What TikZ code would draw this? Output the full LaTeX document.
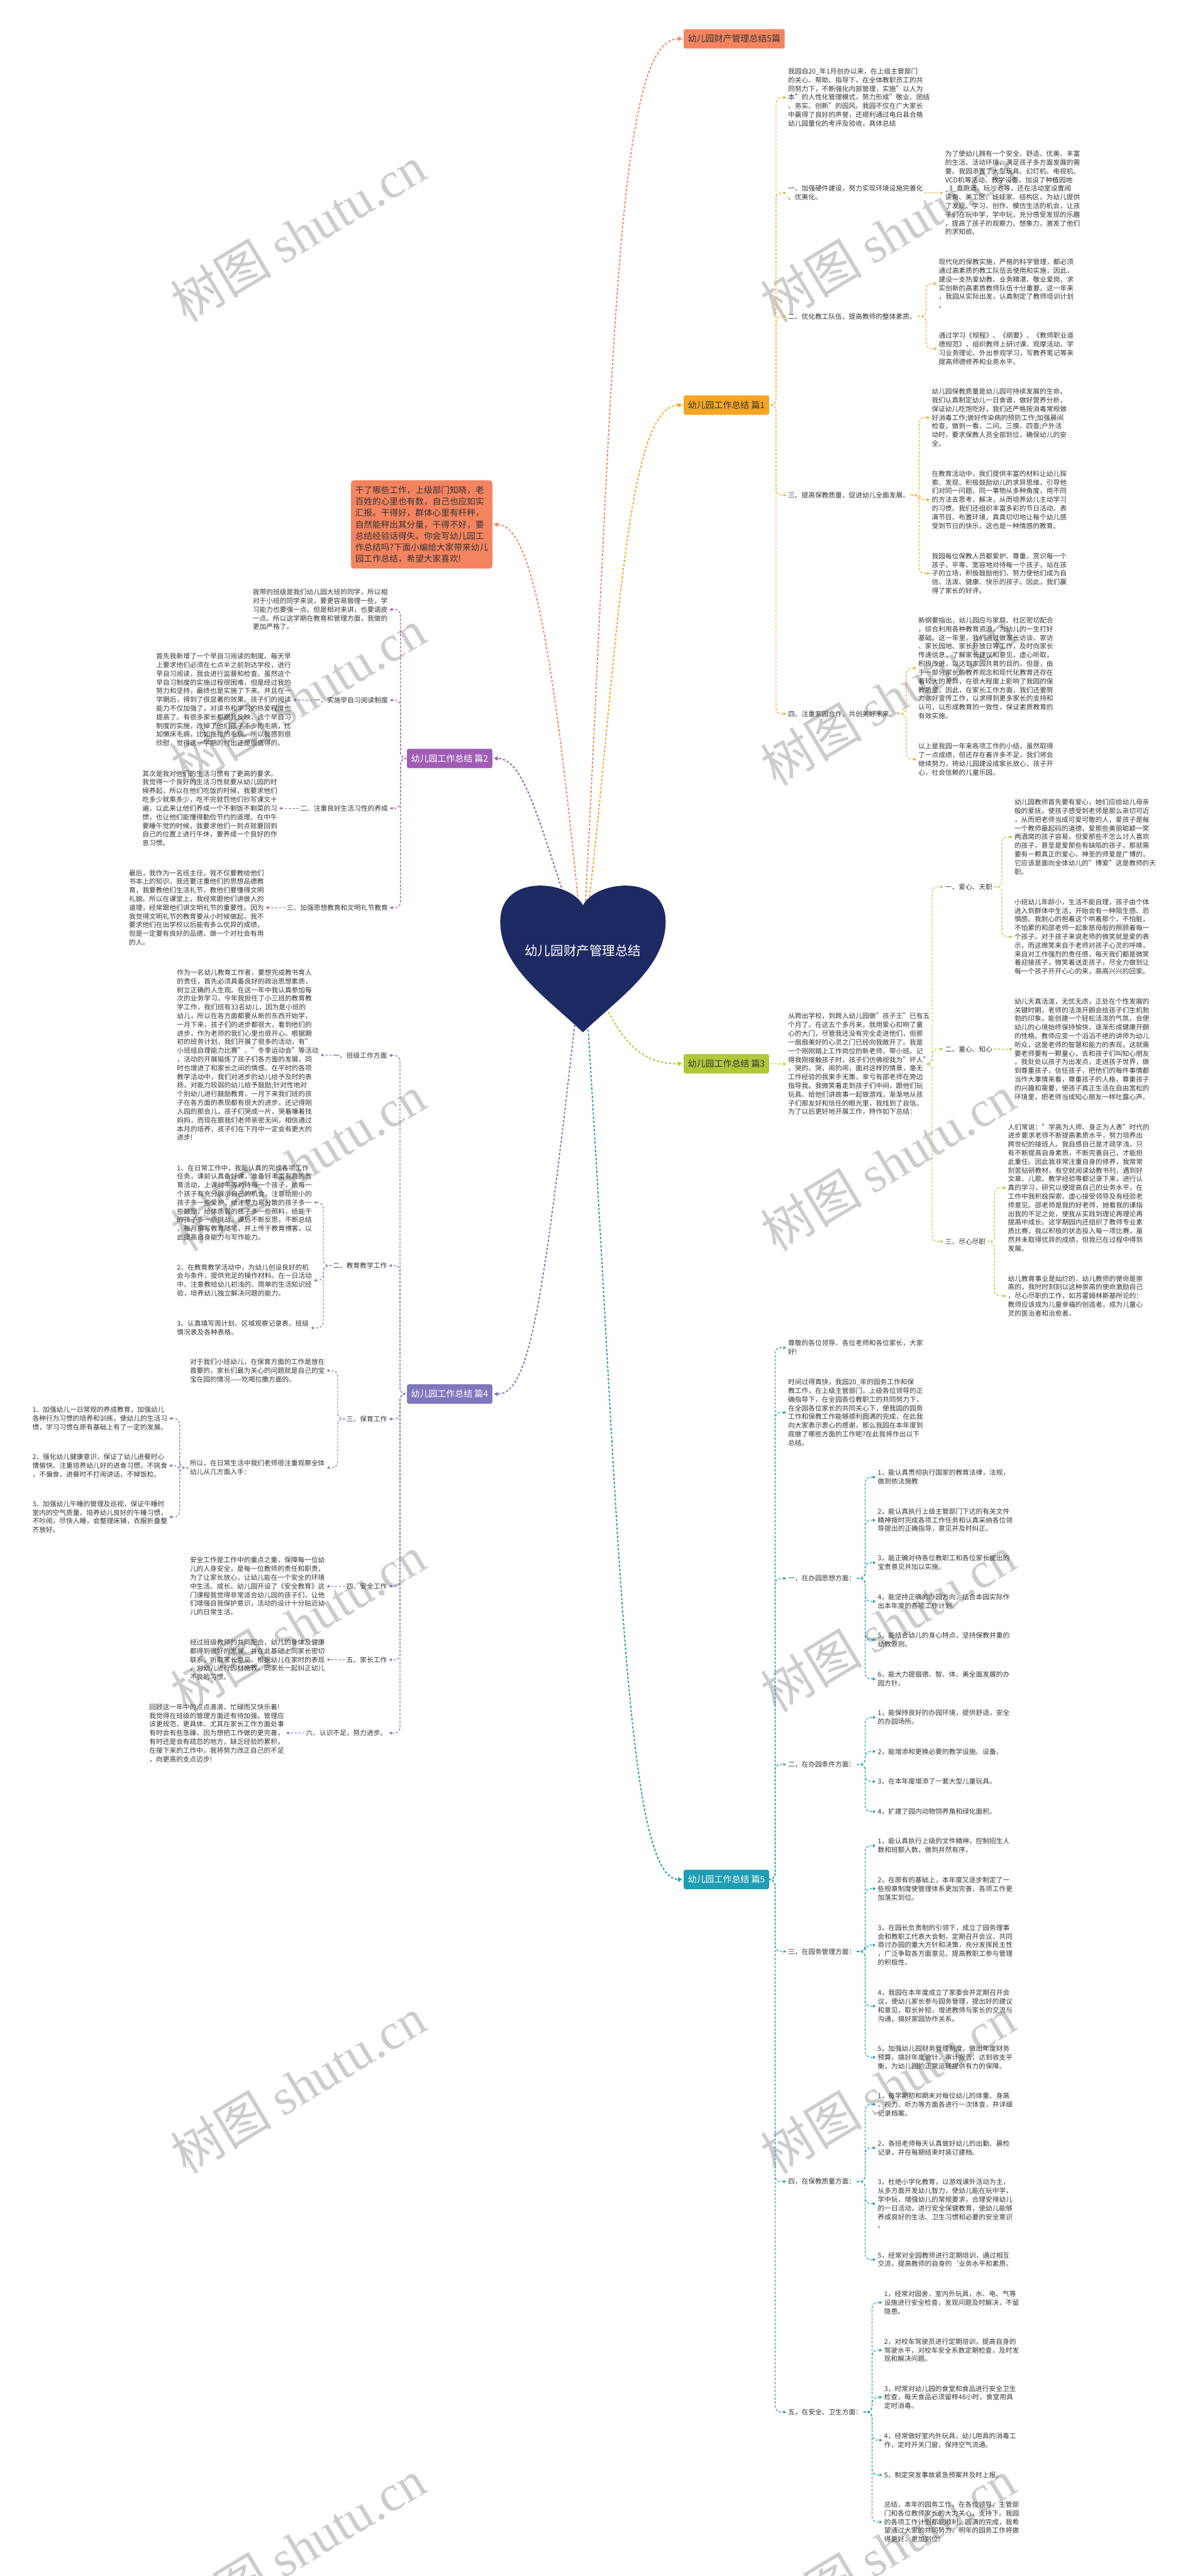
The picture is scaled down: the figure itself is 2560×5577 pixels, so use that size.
\documentclass[tikz,border=0pt]{standalone}
\usepackage{fontspec}
\setmainfont{Noto Sans CJK SC}
\newfontfamily\wmlat{Liberation Serif}
\usetikzlibrary{arrows.meta,calc}
\pgfdeclarelayer{wmk}
\pgfdeclarelayer{back}
\pgfsetlayers{wmk,back,main}
\definecolor{txtc}{HTML}{333333}
\definecolor{cT}{HTML}{F4845F}
\definecolor{c1}{HTML}{F6A623}
\definecolor{c2}{HTML}{A05DB5}
\definecolor{c3}{HTML}{B3C73B}
\definecolor{c4}{HTML}{7F78BC}
\definecolor{c5}{HTML}{1E9DB4}
\definecolor{cH}{HTML}{1E2A64}
\tikzset{
 txt/.style={font=\fontsize{14.6}{18.8}\selectfont, text=txtc, align=left, inner sep=0pt},
 bx/.style={rounded corners=4pt, inner xsep=9pt, inner ysep=0pt, minimum height=42pt, font=\fontsize{19}{22}\selectfont},
 sub/.style={draw=#1, line width=1.6pt, dash pattern=on 5pt off 3.5pt, rounded corners=12pt, -{Triangle[length=6pt,width=6pt]}, shorten >=4pt, shorten <=3pt},
 mline/.style={draw=#1, line width=2.6pt, dash pattern=on 5pt off 4pt, -{Triangle[length=9pt,width=9pt]}, shorten >=3pt},
 wm/.style={text=black!20, font=\fontsize{110}{120}\selectfont, rotate=31, inner sep=0pt}
}
\begin{document}
\begin{tikzpicture}[x=1pt,y=-1pt]
\useasboundingbox (0,0) rectangle (2560,5577);

% background and watermarks
\begin{pgfonlayer}{wmk}
\fill[white] (0,0) rectangle (2560,5577);
\foreach \wy in {506,1510,2518,3515,4515,5515}{
 \node[wm] at (645,\wy) {树图 {\wmlat shutu.cn}};
 \node[wm] at (1923,\wy) {树图 {\wmlat shutu.cn}};
}
\end{pgfonlayer}

% heart
\fill[cH] (1262,1960) .. controls (1290,1905) and (1441,1890) .. (1441,1995)
 .. controls (1441,2095) and (1340,2160) .. (1262,2235)
 .. controls (1184,2160) and (1083,2095) .. (1083,1995)
 .. controls (1083,1890) and (1234,1905) .. (1262,1960) -- cycle;
\node[font=\fontsize{28}{32}\selectfont, text=white, inner sep=0pt] (hc) at (1262,2058) {幼儿园财产管理总结};

% spine coordinates
\coordinate (s1) at (1680,0);
\coordinate (s1c) at (2005,0);
\coordinate (s1d) at (1990,0);
\coordinate (s1e) at (1962,0);
\coordinate (s2) at (867,0);
\coordinate (s3) at (2018,0);
\coordinate (s3b) at (2169,0);
\coordinate (s3d) at (2153,0);
\coordinate (s4) at (866,0);
\coordinate (s4b) at (700,0);
\coordinate (s4c) at (731,0);
\coordinate (s4cc) at (389,0);
\coordinate (s5) at (1678,0);
\coordinate (s5x) at (1873,0);
\coordinate (s5g) at (1888,0);

% title and intro
\node[bx, fill=cT, text=txtc, anchor=west] (t5) at (1480,84) {幼儿园财产管理总结5篇};
\node[rounded corners=6pt, fill=cT, text=txtc, inner xsep=9pt, inner ysep=13pt, align=left,
 font=\fontsize{18.6}{24.6}\selectfont, anchor=east] (intro) at (1066,1135.5)
 {干了哪些工作，上级部门知晓，老\\百姓的心里也有数，自己也应如实\\汇报。干得好，群体心里有杆秤，\\自然能秤出其分量，干得不好，要\\总结经验话得失。你会写幼儿园工\\作总结吗?下面小编给大家带来幼儿\\园工作总结，希望大家喜欢!};

% ===== 篇1 =====
\node[bx, fill=c1, text=txtc, anchor=west] (p1) at (1480,877) {幼儿园工作总结 篇1};
\node[txt, anchor=west] (p1a) at (1706,211) {我园自20\_年1月创办以来，在上级主管部门\\的关心、帮助、指导下，在全体教职员工的共\\同努力下，不断强化内部管理，实施"以人为\\本"的人性化管理模式，努力形成"敬业、团结\\、务实、创新"的园风。我园不仅在广大家长\\中赢得了良好的声誉，还顺利通过电白县合格\\幼儿园量化的考评及验收，具体总结};
\node[txt, anchor=west] (p1b) at (1706,417.5) {一、加强硬件建设，努力实现环境设施完善化\\、优美化。};
\node[txt, anchor=west] (p1b1) at (2046,417.5) {为了使幼儿拥有一个安全、舒适、优美、丰富\\的生活、活动环境，满足孩子多方面发展的需\\要。我园添置了大型玩具、幻灯机、电视机、\\VCD机等活动、教学设备。加设了种植园地\\\_3\_直跑道、玩沙池等，还在活动室设置阅\\读角、美工区、娃娃家、结构区，为幼儿提供\\了发现、学习、创作、模仿生活的机会，让孩\\子们在玩中学，学中玩，充分感受发现的乐趣\\，提高了孩子的观察力、想象力，激发了他们\\的求知欲。};
\node[txt, anchor=west] (p1c) at (1706,685) {二、优化教工队伍，提高教师的整体素质。};
\node[txt, anchor=west] (p1c1) at (2032,614) {现代化的保教实施，严格的科学管理，都必须\\通过高素质的教工队伍去使用和实施，因此，\\建设一支热爱幼教、业务精湛、敬业爱岗、求\\实创新的高素质教师队伍十分重要。这一年来\\，我园从实际出发，认真制定了教师培训计划\\。};
\node[txt, anchor=west] (p1c2) at (2032,755) {通过学习《规程》、《纲要》、《教师职业道\\德规范》，组织教师上研讨课、观摩活动、学\\习业务理论、外出参观学习，写教养笔记等来\\提高师德修养和业务水平。};
\node[txt, anchor=west] (p1d) at (1706,1072) {三、提高保教质量，促进幼儿全面发展。};
\node[txt, anchor=west] (p1d1) at (2017,904) {幼儿园保教质量是幼儿园可持续发展的生命。\\我们认真制定幼儿一日食谱，做好营养分析，\\保证幼儿吃饱吃好，我们还严格按消毒常规做\\好消毒工作;做好传染病的预防工作;加强晨间\\检查，做到一看、二问、三摸、四查;户外活\\动时，要求保教人员全部到位，确保幼儿的安\\全。};
\node[txt, anchor=west] (p1d2) at (2017,1082) {在教育活动中，我们提供丰富的材料让幼儿探\\索、发现、积极鼓励幼儿的求异思维，引导他\\们对同一问题、同一事物从多种角度，用不同\\的方法去思考、解决，从而培养幼儿主动学习\\的习惯。我们还组织丰富多彩的节日活动、表\\演节目、布置环境，真真切切地让每个幼儿感\\受到节日的快乐，这也是一种情感的教育。};
\node[txt, anchor=west] (p1d3) at (2017,1241.5) {我园每位保教人员都爱护、尊重、赏识每一个\\孩子，平等、宽容地对待每一个孩子，站在孩\\子的立场，积极鼓励他们，努力使他们成为自\\信、活泼、健康、快乐的孩子。因此，我们赢\\得了家长的好评。};
\node[txt, anchor=west] (p1e) at (1706,1545.5) {四、注重家园合作，共创美好未来。};
\node[txt, anchor=west] (p1e1) at (1988,1446.5) {新纲要指出，幼儿园应与家庭、社区密切配合\\，综合利用各种教育资源，为幼儿的一生打好\\基础。这一年里，我们通过做家长访谈、家访\\、家长园地、家长开放日等工作，及时向家长\\传递信息，了解家长建议和意见，虚心听取，\\积极改进，以达到家园共育的目的。但是，由\\于一部分家长的教养观念和现代化教育还存在\\着较大的差异，在很大程度上影响了我园的保\\教质量。因此，在家长工作方面，我们还要努\\力做好宣传工作，以求得到更多家长的支持和\\认可，以形成教育的一致性，保证素质教育的\\有效实施。};
\node[txt, anchor=west] (p1e2) at (1988,1644) {以上是我园一年来各项工作的小结，虽然取得\\了一点成绩，但还存在着许多不足，我们将会\\继续努力，将幼儿园建设成家长放心，孩子开\\心，社会信赖的儿童乐园。};

% ===== 篇2 =====
\node[bx, fill=c2, text=white, anchor=east] (p2) at (1066,1642) {幼儿园工作总结 篇2};
\node[txt, anchor=west] (p2a) at (547,1319.6) {我带的班级是我们幼儿园大班的同学，所以相\\对于小班的同学来说，要更容易管理一些，学\\习能力也要强一点。但是相对来讲，也要调皮\\一点。所以这学期在教育和管理方面，我做的\\更加严格了。};
\node[txt, anchor=east] (p2b) at (840,1516) {一、实施早自习阅读制度};
\node[txt, anchor=west] (p2b1) at (338,1515) {首先我新增了一个早自习阅读的制度。每天早\\上要求他们必须在七点半之前到达学校，进行\\早自习阅读，我会进行监督和检查。虽然这个\\早自习制度的实施过程很困难，但是经过我的\\努力和坚持，最终也是实施了下来。并且在一\\学期后，得到了很显著的效果。孩子们的阅读\\能力不仅加强了，对读书和学习的热爱程度也\\提高了。有很多家长都跟我反映，这个早自习\\制度的实施，改掉了他们孩子不少的毛病，比\\如懒床毛病，比如拖拉的毛病。所以我感到很\\欣慰，觉得这一学期的付出还是很值得的。};
\node[txt, anchor=east] (p2c) at (840,1750) {二、注重良好生活习性的养成};
\node[txt, anchor=west] (p2c1) at (308,1750) {其次是我对他们的生活习惯有了更高的要求。\\我觉得一个良好的生活习性就要从幼儿园的时\\候养起，所以在他们吃饭的时候，我要求他们\\吃多少就乘多少，吃不完就罚他们抄写课文十\\遍，以此来让他们养成一个不剩饭不剩菜的习\\惯，也让他们能懂得勤俭节约的道理。在中午\\要睡午觉的时候，我要求他们一到点就要回到\\自己的位置上进行午休，要养成一个良好的作\\息习惯。};
\node[txt, anchor=east] (p2d) at (840,1965) {三、加强思想教育和文明礼节教育};
\node[txt, anchor=west] (p2d1) at (279,1965) {最后，我作为一名班主任，我不仅要教给他们\\书本上的知识，我还要注重他们的思想品德教\\育，我要教他们生活礼节，教他们要懂得文明\\礼貌。所以在课堂上，我经常跟他们讲做人的\\道理，经常跟他们讲文明礼节的重要性。因为\\我觉得文明礼节的教育要从小时候做起，我不\\要求他们在出学校以后能有多么优异的成绩，\\但是一定要有良好的品德，做一个对社会有用\\的人。};

% ===== 篇3 =====
\node[bx, fill=c3, text=txtc, anchor=west] (p3) at (1480,2303) {幼儿园工作总结 篇3};
\node[txt, anchor=west] (p3a) at (1706,2303.7) {从跨出学校，到跨入幼儿园做"孩子王"已有五\\个月了。在这五个多月来，我用爱心扣响了童\\心的大门，尽管我还没有完全走进他们，但那\\一扇扇美好的心灵之门已经向我敞开了。我是\\一个刚刚踏上工作岗位的新老师，带小班。记\\得我刚接触孩子时，孩子们仿佛视我为"坏人"\\，哭的。哭，闹的闹，面对这样的情景，毫无\\工作经验的我束手无策，幸亏有邵老师在旁边\\指导我。我微笑着走到孩子们中间，跟他们玩\\玩具、给他们讲故事一起做游戏，渐渐地从孩\\子们那友好和信任的眼光里，我找到了自信。\\为了以后更好地开展工作，特作如下总结：};
\node[txt, anchor=west] (p3b) at (2046,1920) {一、爱心、天职};
\node[txt, anchor=west] (p3b1) at (2196,1812) {幼儿园教师首先要有爱心，她们应给幼儿母亲\\般的爱抚，使孩子感受到老师是那么亲切可近\\，从而把老师当成可爱可敬的人，爱孩子是每\\一个教师最起码的道德，爱那些美丽聪颖一笑\\两酒窝的孩子容易，但爱那些不怎么讨人喜欢\\的孩子，甚至是爱那些有缺陷的孩子，那就需\\要有一颗真正的爱心，神圣的师爱是广博的，\\它应该是面向全体幼儿的"博爱"这是教师的天\\职。};
\node[txt, anchor=west] (p3b2) at (2196,2028) {小班幼儿年龄小，生活不能自理，孩子由个体\\进入到群体中生活，开始会有一种陌生感、恐\\惧感。我耐心的抱着这个哄着那个，不怕脏，\\不怕累的和邵老师一起象慈母般的照顾着每一\\个孩子。对于孩子来说老师的微笑就是爱的表\\示，而这微笑来自于老师对孩子心灵的呼唤，\\来自对工作强烈的责任感，每天我们都是微笑\\着迎接孩子，微笑着送走孩子，尽全力做到让\\每一个孩子开开心心的来，高高兴兴的回家。};
\node[txt, anchor=west] (p3c) at (2046,2271) {二、童心、知心};
\node[txt, anchor=west] (p3c1) at (2196,2271.5) {幼儿天真活泼，无忧无虑，正处在个性发展的\\关键时期，老师的活泼开朗会给孩子们生机勃\\勃的印象，能创建一个轻松活泼的气氛，会使\\幼儿的心境始终保持愉快，逐渐形成健康开朗\\的性格。教师应变一个滔滔不绝的讲师为幼儿\\听众，这是老师的智慧和能力的表现，这就需\\要老师要有一颗童心，去和孩子们叫知心朋友\\。我处处以孩子为出发点，走进孩子世界，做\\到尊重孩子，信任孩子，把他们的每件事情都\\当作大事情来看，尊重孩子的人格，尊重孩子\\的兴趣和需要，使孩子真正生活在自由宽松的\\环境里，把老师当成知心朋友一样吐露心声。};
\node[txt, anchor=west] (p3d) at (2046,2688) {三、尽心尽职};
\node[txt, anchor=west] (p3d1) at (2182,2571.5) {人们常说："学高为人师、身正为人表"时代的\\进步要求老师不断提高素质水平，努力培养出\\跨世纪的接班人。我自感自己是才疏学浅，只\\有不断提高自身素质，不断完善自己，才能担\\此重任。因此我非常注重自身的修养，我常常\\刻苦钻研教材，有空就阅读幼教书刊，遇到好\\文章、儿歌、教学经验等都记录下来，进行认\\真的学习，研究以便提高自己的业务水平，在\\工作中我积极探索、虚心接受领导及有经验老\\师意见。邵老师是我的好老师，她看我的课指\\出我的不足之处，使我从实践到理论再理论再\\提高中成长。这学期园内还组织了教师专业素\\质比赛，我以积极的状态投入每一项比赛，虽\\然并未取得优异的成绩，但我已在过程中得到\\发展。};
\node[txt, anchor=west] (p3d2) at (2182,2805.5) {幼儿教育事业是灿烂的，幼儿教师的使命是崇\\高的，我时时刻刻以这种崇高的使命激励自己\\，尽心尽职的工作，如苏霍姆林斯基所论的：\\教师应该成为儿童幸福的创造者，成为儿童心\\灵的医治者和治愈者。};

% ===== 篇4 =====
\node[bx, fill=c4, text=white, anchor=east] (p4) at (1066,3018) {幼儿园工作总结 篇4};
\node[txt, anchor=east] (p4a) at (838,2285) {一、班级工作方面};
\node[txt, anchor=west] (p4a1) at (383,2284) {作为一名幼儿教育工作者，要想完成教书育人\\的责任，首先必须具备良好的政治思想素质，\\树立正确的人生观。在这一年中我认真参加每\\次的业务学习。今年我担任了小三班的教育教\\学工作，我们班有33名幼儿，因为是小班的\\幼儿，所以在各方面都要从新的东西开始学，\\一月下来，孩子们的进步都很大，看到他们的\\进步，作为老师的我们心里也很开心。根据期\\初的班务计划，我们开展了很多的活动，有"\\小班组自理能力比赛"、"冬季运动会"等活动\\，活动的开展锻炼了孩子们各方面的发展，同\\时也增进了和家长之间的情感。在平时的各项\\教学活动中，我们对进步的幼儿给予及时的表\\扬，对能力较弱的幼儿给予鼓励;针对性地对\\个别幼儿进行鼓励教育，一月下来我们班的孩\\子在各方面的表现都有很大的进步。还记得刚\\入园的那会儿，孩子们哭成一片，哭着嚷着找\\妈妈，而现在跟我们老师亲密无间，相信通过\\本月的培养，孩子们在下月中一定会有更大的\\进步!};
\node[txt, anchor=east] (p4b) at (838,2740) {二、教育教学工作};
\node[txt, anchor=west] (p4b1) at (383,2603.5) {1、在日常工作中，我能认真的完成各项工作\\任务，课前认真备好课，准备好丰富有趣的教\\育活动，上课时平等对待每一个孩子，给每一\\个孩子有充分展示自己的机会，注意给胆小的\\孩子多一些爱护，给注意力易分散的孩子多一\\些鼓励，给体质弱的孩子多一些照料，给能干\\的孩子多一些挑战。课后不断反思，不断总结\\，每月撰写教育随笔，并上传于教育博客，以\\此提高自身能力与写作能力。};
\node[txt, anchor=west] (p4b2) at (383,2772) {2、在教育教学活动中，为幼儿创设良好的机\\会与条件，提供充足的操作材料。在一日活动\\中，注意教给幼儿初浅的、简单的生活知识经\\验，培养幼儿独立解决问题的能力。};
\node[txt, anchor=west] (p4b3) at (383,2875) {3、认真填写周计划、区域观察记录表、班级\\情况表及各种表格。};
\node[txt, anchor=east] (p4c) at (838,3072) {三、保育工作};
\node[txt, anchor=west] (p4c1) at (411,2967.5) {对于我们小班幼儿，在保育方面的工作是放在\\首要的，家长们最为关心的问题就是自己的宝\\宝在园的情况——吃喝拉撒方面的。};
\node[txt, anchor=west] (p4c2) at (411,3177.5) {所以，在日常生活中我们老师很注重观察全体\\幼儿从几方面入手：};
\node[txt, anchor=west] (p4c2a) at (70,3071) {1、加强幼儿一日常规的养成教育，加强幼儿\\各种行为习惯的培养和训练，使幼儿的生活习\\惯，学习习惯在原有基础上有了一定的发展。};
\node[txt, anchor=west] (p4c2b) at (70,3173) {2、强化幼儿健康意识，保证了幼儿进餐时心\\情愉快。注重培养幼儿好的进食习惯，不挑食\\，不偏食，进餐时不打闹讲话，不掉饭粒。};
\node[txt, anchor=west] (p4c2c) at (70,3284) {3、加强幼儿午睡的管理及巡视，保证午睡时\\室内的空气质量。培养幼儿良好的午睡习惯，\\不吵闹，尽快入睡，会整理床铺，衣服折叠整\\齐放好。};
\node[txt, anchor=east] (p4d) at (838,3434) {四、安全工作};
\node[txt, anchor=west] (p4d1) at (411,3434) {安全工作是工作中的重点之重，保障每一位幼\\儿的人身安全，是每一位教师的责任和职责，\\为了让家长放心，让幼儿能在一个安全的环境\\中生活、成长。幼儿园开设了《安全教育》这\\门课程我觉得非常适合幼儿园的孩子们，让他\\们增强自我保护意识，活动的设计十分贴近幼\\儿的日常生活。};
\node[txt, anchor=east] (p4e) at (838,3593.5) {五、家长工作};
\node[txt, anchor=west] (p4e1) at (411,3593) {经过班级教师的共同配合，幼儿的身体及健康\\都得到很好的发展。并在此基础上同家长密切\\联系，听取家长意见，根据幼儿在家时的表现\\，对幼儿进行因材施教，同家长一起纠正幼儿\\不良的习惯。};
\node[txt, anchor=east] (p4f) at (838,3752) {六、认识不足，努力进步。};
\node[txt, anchor=west] (p4f1) at (323,3752) {回顾这一年中的点点滴滴，忙碌而又快乐着!\\我觉得在班级的管理方面还有待加强，管理应\\该更规范，更具体。尤其在家长工作方面处事\\有时会有些急躁，因为想把工作做的更完善，\\有时还是会有疏忽的地方，缺乏经验的累积，\\在接下来的工作中，我将努力改正自己的不足\\，向更高的支点迈步!};

% ===== 篇5 =====
\node[bx, fill=c5, text=white, anchor=west] (p5) at (1480,4069) {幼儿园工作总结 篇5};
\node[txt, anchor=west] (p5a) at (1706,2917.5) {尊敬的各位领导、各位老师和各位家长，大家\\好!};
\node[txt, anchor=west] (p5b) at (1706,3058) {时间过得真快，我园20\_年的园务工作和保\\教工作，在上级主管部门，上级各位领导的正\\确指导下，在全园各位教职工的共同努力下，\\在全园各位家长的共同关心下，使我园的园务\\工作和保教工作能够顺利圆满的完成，在此我\\向大家表示衷心的感谢，那么我园在本年度到\\底做了哪些方面的工作呢?在此我将作出以下\\总结。};
\node[txt, anchor=west] (p5c) at (1706,3417) {一，在办园思想方面：};
\node[txt, anchor=west] (p5c1) at (1900,3198) {1，能认真贯彻执行国家的教育法律，法规，\\做到依法施教};
\node[txt, anchor=west] (p5c2) at (1900,3291) {2，能认真执行上级主管部门下达的有关文件\\精神按时完成各项工作任务和认真采纳各位领\\导提出的正确指导，意见并及时纠正。};
\node[txt, anchor=west] (p5c3) at (1900,3383) {3，能正确对待各位教职工和各位家长提出的\\宝贵意见并加以实施。};
\node[txt, anchor=west] (p5c4) at (1900,3467) {4，能坚持正确的办园方向，结合本园实际作\\出本年度的各项工作计划。};
\node[txt, anchor=west] (p5c5) at (1900,3550) {5，能结合幼儿的身心特点，坚持保教并重的\\幼教原则。};
\node[txt, anchor=west] (p5c6) at (1900,3635) {6，能大力提倡德、智、体、美全面发展的办\\园方针。};
\node[txt, anchor=west] (p5d) at (1706,3820) {二，在办园条件方面：};
\node[txt, anchor=west] (p5d1) at (1900,3718) {1，能保持良好的办园环境，提供舒适，安全\\的办园场所。};
\node[txt, anchor=west] (p5d2) at (1900,3792) {2，能增添和更换必要的教学设施、设备。};
\node[txt, anchor=west] (p5d3) at (1900,3857) {3，在本年度增添了一套大型儿童玩具。};
\node[txt, anchor=west] (p5d4) at (1900,3922) {4，扩建了园内动物饲养角和绿化面积。};
\node[txt, anchor=west] (p5e) at (1706,4225) {三，在园务管理方面：};
\node[txt, anchor=west] (p5e1) at (1900,3996) {1，能认真执行上级的文件精神，控制招生人\\数和班额人数，做到井然有序。};
\node[txt, anchor=west] (p5e2) at (1900,4089) {2，在原有的基础上，本年度又逐步制定了一\\些规章制度使管理体系更加完善，各项工作更\\加落实到位。};
\node[txt, anchor=west] (p5e3) at (1900,4211) {3，在园长负责制的引领下，成立了园务理事\\会和教职工代表大会制，定期召开会议，共同\\商讨办园的重大方针和决策，充分发挥民主性\\，广泛争取各方面意见，提高教职工参与管理\\的积极性。};
\node[txt, anchor=west] (p5e4) at (1900,4343) {4，我园在本年度成立了家委会并定期召开会\\议，使幼儿家长参与园务管理，提出好的建议\\和意见，取长补短，增进教师与家长的交流与\\沟通，搞好家园协作关系。};
\node[txt, anchor=west] (p5e5) at (1900,4454) {5，加强幼儿园财务管理制度，做出年度财务\\预算，搞好年度会计，审计报告，达到收支平\\衡，为幼儿园的正常运转提供有力的保障。};
\node[txt, anchor=west] (p5f) at (1706,4723) {四，在保教质量方面：};
\node[txt, anchor=west] (p5f1) at (1900,4556) {1，每学期初和期末对每位幼儿的体重、身高\\、视力、听力等方面各进行一次体查，并详细\\记录档案。};
\node[txt, anchor=west] (p5f2) at (1900,4650) {2，各班老师每天认真做好幼儿的出勤、晨检\\记录，并在每期结束时装订建档。};
\node[txt, anchor=west] (p5f3) at (1900,4771) {3，杜绝小学化教育，以游戏课外活动为主，\\从多方面开发幼儿智力，使幼儿能在玩中学，\\学中玩，增强幼儿的常规要求，合理安排幼儿\\的一日活动，进行安全保健教育，使幼儿能够\\养成良好的生活、卫生习惯和必要的安全意识\\。};
\node[txt, anchor=west] (p5f4) at (1900,4892) {5，经常对全园教师进行定期培训，通过相互\\交流，提高教师的自身的`业务水平和素质。};
\node[txt, anchor=west] (p5g) at (1706,5222) {五，在安全、卫生方面：};
\node[txt, anchor=west] (p5g1) at (1914,4985) {1，经常对园舍，室内外玩具，水、电、气等\\设施进行安全检查，发现问题及时解决，不留\\隐患。};
\node[txt, anchor=west] (p5g2) at (1914,5088) {2，对校车驾驶员进行定期培训，提高自身的\\驾驶水平，对校车安全系数定期检查，及时发\\现和解决问题。};
\node[txt, anchor=west] (p5g3) at (1914,5190) {3，时常对幼儿园的食堂和食品进行安全卫生\\检查，每天食品必须留样48小时，食堂用具\\定时消毒。};
\node[txt, anchor=west] (p5g4) at (1914,5283) {4，经常做好室内外玩具，幼儿用具的消毒工\\作，定时开关门窗，保持空气流通。};
\node[txt, anchor=west] (p5g5) at (1914,5358) {5，制定突发事故紧急预案并及时上报。};
\node[txt, anchor=west] (p5g6) at (1914,5460) {总结，本年的园务工作，在各位领导，主管部\\门和各位教师家长的大力关心，支持下。我园\\的各项工作计划都能顺利，圆满的完成，我希\\望通过大家的共同努力，明年的园务工作将做\\得更好，更加到位!};

% ===== connectors =====
\begin{pgfonlayer}{back}
% from heart
\draw[mline=cT] (hc.center) .. controls (1330,800) and (1330,84) .. (t5.west);
\draw[mline=c1] (hc.center) .. controls (1335,1500) and (1345,877) .. (p1.west);
\draw[mline=c3] (hc.center) .. controls (1330,2250) and (1380,2303) .. (p3.west);
\draw[mline=c5] (hc.center) .. controls (1340,3200) and (1345,4069) .. (p5.west);
\draw[mline=cT] (hc.center) .. controls (1200,1400) and (1150,1136) .. (intro.east);
\draw[mline=c2] (hc.center) .. controls (1170,1800) and (1140,1642) .. (p2.east);
\draw[mline=c4] (hc.center) .. controls (1180,2800) and (1150,3018) .. (p4.east);
% 篇1
\foreach \c in {p1a,p1b,p1c,p1d,p1e}{\draw[sub=c1] (p1.east) -- (p1.east -| s1) |- (\c.west);}
\draw[sub=c1] (p1b.east) -- (p1b1.west);
\foreach \c in {p1c1,p1c2}{\draw[sub=c1] (p1c.east) -- (p1c.east -| s1c) |- (\c.west);}
\foreach \c in {p1d1,p1d2,p1d3}{\draw[sub=c1] (p1d.east) -- (p1d.east -| s1d) |- (\c.west);}
\foreach \c in {p1e1,p1e2}{\draw[sub=c1] (p1e.east) -- (p1e.east -| s1e) |- (\c.west);}
% 篇2
\foreach \c in {p2a,p2b,p2c,p2d}{\draw[sub=c2] (p2.west) -- (p2.west -| s2) |- (\c.east);}
\draw[sub=c2] (p2b.west) -- (p2b1.east);
\draw[sub=c2] (p2c.west) -- (p2c1.east);
\draw[sub=c2] (p2d.west) -- (p2d1.east);
% 篇3
\draw[sub=c3] (p3.east) -- (p3a.west);
\foreach \c in {p3b,p3c,p3d}{\draw[sub=c3] (p3a.east) -- (p3a.east -| s3) |- (\c.west);}
\foreach \c in {p3b1,p3b2}{\draw[sub=c3] (p3b.east) -- (p3b.east -| s3b) |- (\c.west);}
\draw[sub=c3] (p3c.east) -- (p3c1.west);
\foreach \c in {p3d1,p3d2}{\draw[sub=c3] (p3d.east) -- (p3d.east -| s3d) |- (\c.west);}
% 篇4
\foreach \c in {p4a,p4b,p4c,p4d,p4e,p4f}{\draw[sub=c4] (p4.west) -- (p4.west -| s4) |- (\c.east);}
\draw[sub=c4] (p4a.west) -- (p4a1.east);
\foreach \c in {p4b1,p4b2,p4b3}{\draw[sub=c4] (p4b.west) -- (p4b.west -| s4b) |- (\c.east);}
\foreach \c in {p4c1,p4c2}{\draw[sub=c4] (p4c.west) -- (p4c.west -| s4c) |- (\c.east);}
\foreach \c in {p4c2a,p4c2b,p4c2c}{\draw[sub=c4] (p4c2.west) -- (p4c2.west -| s4cc) |- (\c.east);}
\draw[sub=c4] (p4d.west) -- (p4d1.east);
\draw[sub=c4] (p4e.west) -- (p4e1.east);
\draw[sub=c4] (p4f.west) -- (p4f1.east);
% 篇5
\foreach \c in {p5a,p5b,p5c,p5d,p5e,p5f,p5g}{\draw[sub=c5] (p5.east) -- (p5.east -| s5) |- (\c.west);}
\foreach \c in {p5c1,p5c2,p5c3,p5c4,p5c5,p5c6}{\draw[sub=c5] (p5c.east) -- (p5c.east -| s5x) |- (\c.west);}
\foreach \c in {p5d1,p5d2,p5d3,p5d4}{\draw[sub=c5] (p5d.east) -- (p5d.east -| s5x) |- (\c.west);}
\foreach \c in {p5e1,p5e2,p5e3,p5e4,p5e5}{\draw[sub=c5] (p5e.east) -- (p5e.east -| s5x) |- (\c.west);}
\foreach \c in {p5f1,p5f2,p5f3,p5f4}{\draw[sub=c5] (p5f.east) -- (p5f.east -| s5x) |- (\c.west);}
\foreach \c in {p5g1,p5g2,p5g3,p5g4,p5g5,p5g6}{\draw[sub=c5] (p5g.east) -- (p5g.east -| s5g) |- (\c.west);}
\end{pgfonlayer}
\end{tikzpicture}
\end{document}
